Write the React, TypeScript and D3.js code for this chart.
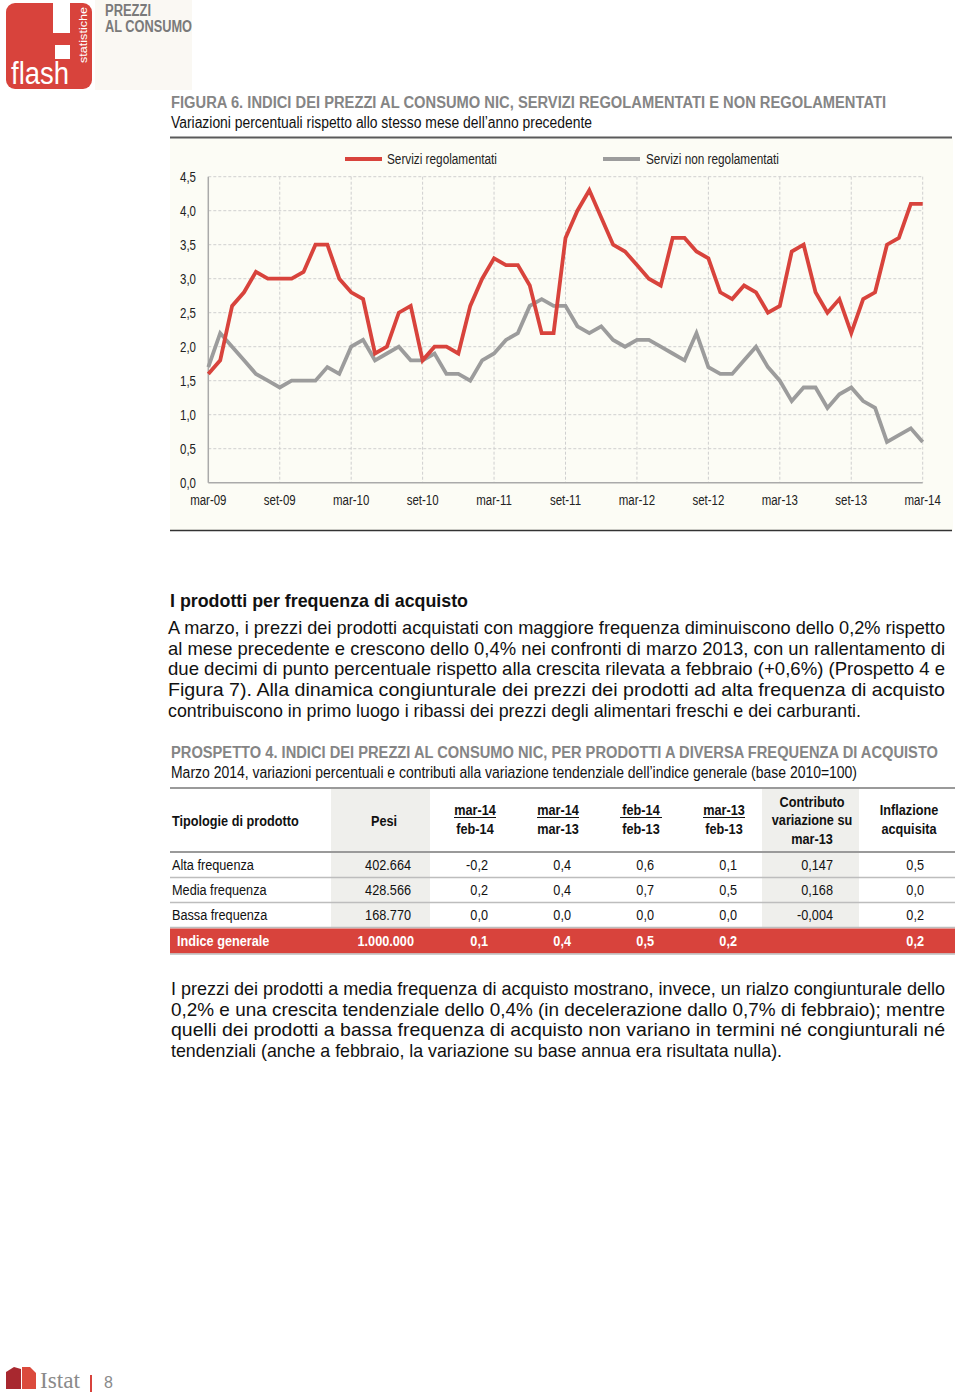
import React from "react";
import * as d3 from "d3";

const SANS = "'Liberation Sans', Arial, sans-serif";
const SX = 0.82; // Arial Narrow ≈ Arial condensed horizontally

// ---- chart data ----
const months: string[] = d3
  .timeMonth.range(new Date(2009, 2, 1), new Date(2014, 3, 1))
  .map((d) => d3.timeFormat("%Y-%m")(d));

const tickLabels = ["mar-09", "set-09", "mar-10", "set-10", "mar-11", "set-11", "mar-12", "set-12", "mar-13", "set-13", "mar-14"];
const yTicks = [0, 0.5, 1, 1.5, 2, 2.5, 3, 3.5, 4, 4.5];

const regolamentati = [
  1.6, 1.8, 2.6, 2.8, 3.1, 3.0, 3.0, 3.0, 3.1, 3.5, 3.5, 3.0, 2.8, 2.7, 1.9, 2.0, 2.5, 2.6, 1.8, 2.0, 2.0, 1.9, 2.6, 3.0,
  3.3, 3.2, 3.2, 2.9, 2.2, 2.2, 3.6, 4.0, 4.3, 3.9, 3.5, 3.4, 3.2, 3.0, 2.9, 3.6, 3.6, 3.4, 3.3, 2.8, 2.7, 2.9, 2.8, 2.5,
  2.6, 3.4, 3.5, 2.8, 2.5, 2.7, 2.2, 2.7, 2.8, 3.5, 3.6, 4.1, 4.1,
];
const nonRegolamentati = [
  1.7, 2.2, 2.0, 1.8, 1.6, 1.5, 1.4, 1.5, 1.5, 1.5, 1.7, 1.6, 2.0, 2.1, 1.8, 1.9, 2.0, 1.8, 1.8, 1.9, 1.6, 1.6, 1.5, 1.8,
  1.9, 2.1, 2.2, 2.6, 2.7, 2.6, 2.6, 2.3, 2.2, 2.3, 2.1, 2.0, 2.1, 2.1, 2.0, 1.9, 1.8, 2.2, 1.7, 1.6, 1.6, 1.8, 2.0, 1.7,
  1.5, 1.2, 1.4, 1.4, 1.1, 1.3, 1.4, 1.2, 1.1, 0.6, 0.7, 0.8, 0.6,
];
const seriesNames = ["Servizi regolamentati", "Servizi non regolamentati"];

// ---- table data ----
const tableRows = ["Alta frequenza", "Media frequenza", "Bassa frequenza"];
const pesi = ["402.664", "428.566", "168.770"];
const colMar14Feb14 = ["-0,2", "0,2", "0,0"];
const colMar14Mar13 = ["0,4", "0,4", "0,0"];
const colFeb14Feb13 = ["0,6", "0,7", "0,0"];
const colMar13Feb13 = ["0,1", "0,5", "0,0"];
const colContributo = ["0,147", "0,168", "-0,004"];
const colInflazione = ["0,5", "0,0", "0,2"];
const totalRow = ["Indice generale", "1.000.000", "0,1", "0,4", "0,5", "0,2", "", "0,2"];

const para1 = [
  "A marzo, i prezzi dei prodotti acquistati con maggiore frequenza diminuiscono dello 0,2% rispetto",
  "al mese precedente e crescono dello 0,4% nei confronti di marzo 2013, con un rallentamento di",
  "due decimi di punto percentuale rispetto alla crescita rilevata a febbraio (+0,6%) (Prospetto 4 e",
  "Figura 7). Alla dinamica congiunturale dei prezzi dei prodotti ad alta frequenza di acquisto",
  "contribuiscono in primo luogo i ribassi dei prezzi degli alimentari freschi e dei carburanti.",
];
const para2 = [
  "I prezzi dei prodotti a media frequenza di acquisto mostrano, invece, un rialzo congiunturale dello",
  "0,2% e una crescita tendenziale dello 0,4% (in decelerazione dallo 0,7% di febbraio); mentre",
  "quelli dei prodotti a bassa frequenza di acquisto non variano in termini né congiunturali né",
  "tendenziali (anche a febbraio, la variazione su base annua era risultata nulla).",
];

const RED = "#D8433C";
const GRAY = "#9C9C9C";

type TP = {
  x: number;
  y: number;
  size: number;
  children: React.ReactNode;
  anchor?: "start" | "middle" | "end";
  weight?: string | number;
  fill?: string;
  len?: number;
  dy?: string;
  sx?: number;
};

// Narrow text: Liberation Sans squeezed horizontally
function T({ x, y, size, children, anchor = "start", weight = "normal", fill = "#111", len, dy, sx = SX }: TP) {
  return (
    <text
      transform={`translate(${x},${y}) scale(${sx},1)`}
      textAnchor={anchor}
      fontFamily={SANS}
      fontSize={size}
      fontWeight={weight}
      fill={fill}
      dy={dy}
      textLength={len ? len / sx : undefined}
      lengthAdjust={len ? "spacingAndGlyphs" : undefined}
    >
      {children}
    </text>
  );
}

export default function App() {
  const x = d3.scalePoint<string>().domain(months).range([208.3, 922.7]);
  const y = d3.scaleLinear().domain([0, 4.5]).range([482.7, 176.7]);
  const fmt = (v: number) => v.toFixed(1).replace(".", ",");
  const line = d3
    .line<number>()
    .x((_, i) => x(months[i]) as number)
    .y((d) => y(d))
    .curve(d3.curveLinear);
  const tickMonths = months.filter((_, i) => i % 6 === 0);

  const colRights = [411, 488, 571, 654, 737, 833, 924];
  const dataCols = [pesi, colMar14Feb14, colMar14Mar13, colFeb14Feb13, colMar13Feb13, colContributo, colInflazione];
  const rowBase = [870, 895, 920];

  const headerPairs = [
    { cx: 475, a: "mar-14", b: "feb-14" },
    { cx: 558, a: "mar-14", b: "mar-13" },
    { cx: 641, a: "feb-14", b: "feb-13" },
    { cx: 724, a: "mar-13", b: "feb-13" },
  ];

  return (
    <svg width={960} height={1392} style={{ position: "absolute", left: 0, top: 0, background: "#fff" }}>
      {/* ---------- header logo ---------- */}
      <rect x={95} y={0} width={97} height={90} fill="#FAF8F3" />
      <rect x={6} y={3} width={86} height={86} rx={9} fill={RED} />
      <rect x={53} y={0} width={17} height={33} fill="#fff" />
      <rect x={55} y={45} width={15} height={14} fill="#fff" />
      <text x={11} y={84} fill="#fff" fontFamily={SANS} fontSize={31} fontWeight={300} textLength={58} lengthAdjust="spacingAndGlyphs">
        flash
      </text>
      <text transform="translate(87,63) rotate(-90)" fill="#fff" fontFamily={SANS} fontSize={11} textLength={56} lengthAdjust="spacingAndGlyphs">
        statistiche
      </text>
      <T x={105} y={16} size={16} weight="bold" fill="#7a7a7a" len={46}>PREZZI</T>
      <T x={105} y={32} size={16} weight="bold" fill="#7a7a7a" len={87}>AL CONSUMO</T>

      {/* ---------- figure title ---------- */}
      <T x={171} y={108} size={17} weight="bold" fill="#858585" len={715}>
        FIGURA 6. INDICI DEI PREZZI AL CONSUMO NIC, SERVIZI REGOLAMENTATI E NON REGOLAMENTATI
      </T>
      <T x={171} y={128} size={16} len={421}>
        Variazioni percentuali rispetto allo stesso mese dell’anno precedente
      </T>

      {/* ---------- chart ---------- */}
      <rect x={170} y={138.5} width={783} height={392} fill="#FCFCF5" />
      <line x1={170} x2={952} y1={137.5} y2={137.5} stroke="#5a5a5a" strokeWidth={2} />
      <line x1={170} x2={952} y1={530.5} y2={530.5} stroke="#333" strokeWidth={1.5} />

      {/* grid */}
      {yTicks.slice(1).map((t) => (
        <line key={"gy" + t} x1={208.3} x2={922.7} y1={y(t)} y2={y(t)} stroke="#cfcfcf" strokeWidth={1} strokeDasharray="3,2" />
      ))}
      {tickMonths.slice(1).map((m) => (
        <line key={"gx" + m} x1={x(m)} x2={x(m)} y1={y(4.5)} y2={y(0)} stroke="#cfcfcf" strokeWidth={1} strokeDasharray="3,2" />
      ))}
      <line x1={208.3} x2={208.3} y1={y(4.5)} y2={y(0)} stroke="#aaa" strokeWidth={1.5} />
      <line x1={208.3} x2={922.7} y1={y(0)} y2={y(0)} stroke="#aaa" strokeWidth={1.5} />

      {/* y labels */}
      {yTicks.map((t) => (
        <T key={"yl" + t} x={196} y={y(t)} dy="0.35em" anchor="end" size={14} fill="#222">
          {fmt(t)}
        </T>
      ))}
      {/* x labels */}
      {tickMonths.map((m, i) => (
        <T key={"xl" + m} x={x(m) as number} y={505} anchor="middle" size={14} fill="#222">
          {tickLabels[i]}
        </T>
      ))}

      {/* series */}
      <path d={line(nonRegolamentati) || ""} fill="none" stroke={GRAY} strokeWidth={3.8} strokeLinejoin="miter" />
      <path d={line(regolamentati) || ""} fill="none" stroke={RED} strokeWidth={3.8} strokeLinejoin="miter" />

      {/* legend */}
      <line x1={345} x2={382} y1={159} y2={159} stroke={RED} strokeWidth={4} />
      <T x={387} y={159} dy="0.35em" size={14} fill="#222" len={110}>
        {seriesNames[0]}
      </T>
      <line x1={603} x2={640} y1={159} y2={159} stroke={GRAY} strokeWidth={4} />
      <T x={646} y={159} dy="0.35em" size={14} fill="#222" len={133}>
        {seriesNames[1]}
      </T>

      {/* ---------- paragraph 1 ---------- */}
      <T x={170} y={607} size={18} weight="bold" len={298}>
        I prodotti per frequenza di acquisto
      </T>
      {para1.map((l, i) => (
        <T key={"p1" + i} x={168} y={634 + i * 20.7} size={18} len={i === para1.length - 1 ? 693 : 777}>
          {l}
        </T>
      ))}

      {/* ---------- table ---------- */}
      <T x={171} y={758} size={17} weight="bold" fill="#858585" len={767}>
        PROSPETTO 4. INDICI DEI PREZZI AL CONSUMO NIC, PER PRODOTTI A DIVERSA FREQUENZA DI ACQUISTO
      </T>
      <T x={171} y={778} size={16} len={686}>
        Marzo 2014, variazioni percentuali  e contributi alla variazione tendenziale dell’indice generale (base 2010=100)
      </T>

      <rect x={331} y={789} width={99} height={139} fill="#EFEFEC" />
      <rect x={762} y={789} width={97} height={139} fill="#EFEFEC" />
      <line x1={170} x2={955} y1={788} y2={788} stroke="#9a9a9a" strokeWidth={2} />
      <line x1={170} x2={955} y1={852} y2={852} stroke="#9a9a9a" strokeWidth={2} />
      <line x1={170} x2={955} y1={877.5} y2={877.5} stroke="#bdbdbd" strokeWidth={1.5} />
      <line x1={170} x2={955} y1={902.5} y2={902.5} stroke="#bdbdbd" strokeWidth={1.5} />
      <line x1={170} x2={955} y1={927.5} y2={927.5} stroke="#bdbdbd" strokeWidth={1.5} />

      <T x={172} y={826} size={15.5} weight="bold">Tipologie di prodotto</T>
      <T x={384} y={826} size={15.5} weight="bold" anchor="middle">Pesi</T>
      {headerPairs.map((h) => (
        <g key={h.cx + h.b}>
          <T x={h.cx} y={815} size={15.5} weight="bold" anchor="middle">{h.a}</T>
          <line x1={h.cx - 21} x2={h.cx + 21} y1={817.5} y2={817.5} stroke="#111" strokeWidth={1} />
          <T x={h.cx} y={834} size={15.5} weight="bold" anchor="middle">{h.b}</T>
        </g>
      ))}
      <T x={812} y={807} size={15.5} weight="bold" anchor="middle">Contributo</T>
      <T x={812} y={825} size={15.5} weight="bold" anchor="middle">variazione su</T>
      <T x={812} y={844} size={15.5} weight="bold" anchor="middle">mar-13</T>
      <T x={909} y={815} size={15.5} weight="bold" anchor="middle">Inflazione</T>
      <T x={909} y={834} size={15.5} weight="bold" anchor="middle">acquisita</T>

      {tableRows.map((r, ri) => (
        <g key={r}>
          <T x={172} y={rowBase[ri]} size={15.5}>{r}</T>
          {dataCols.map((col, ci) => (
            <T key={ci} x={colRights[ci]} y={rowBase[ri]} size={15.5} anchor="end">
              {col[ri]}
            </T>
          ))}
        </g>
      ))}

      <rect x={170} y={928.5} width={785} height={25} fill={RED} />
      <line x1={170} x2={955} y1={954} y2={954} stroke="#bdbdbd" strokeWidth={1.5} />
      <T x={177} y={946} size={15.5} weight="bold" fill="#fff">{totalRow[0]}</T>
      {totalRow.slice(1).map((v, i) => (
        <T key={i} x={colRights[i] + (i === 0 ? 3 : 0)} y={946} size={15.5} weight="bold" fill="#fff" anchor="end">
          {v}
        </T>
      ))}

      {/* ---------- paragraph 2 ---------- */}
      {para2.map((l, i) => (
        <T key={"p2" + i} x={171} y={995 + i * 20.7} size={18} len={i === para2.length - 1 ? 611 : 774}>
          {l}
        </T>
      ))}

      {/* ---------- footer ---------- */}
      <path d="M6,1372 L14,1367 L21,1369 L21,1389 L6,1389 Z" fill="#A8282F" />
      <path d="M22,1367 L30,1367 L36,1373 L36,1389 L22,1389 Z" fill="#DB4A3C" />
      <text x={40} y={1388} fill="#8a8a8a" fontFamily="'Liberation Serif', serif" fontSize={24} textLength={40} lengthAdjust="spacingAndGlyphs">
        Istat
      </text>
      <rect x={90} y={1375} width={2} height={17} fill={RED} />
      <text x={104} y={1388} fill="#8a8a8a" fontFamily={SANS} fontSize={16}>
        8
      </text>
    </svg>
  );
}
